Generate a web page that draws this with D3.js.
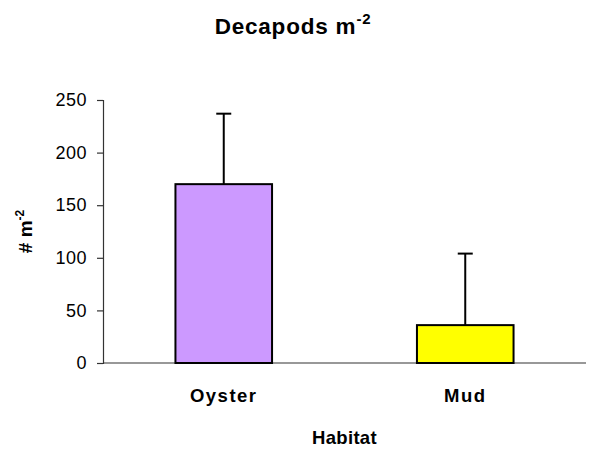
<!DOCTYPE html>
<html>
<head>
<meta charset="utf-8">
<script src="https://cdn.jsdelivr.net/npm/d3@7"></script>
<style>
  body { margin: 0; background: #fff; }
  text { font-family: "Liberation Sans", Arial, sans-serif; fill: #000; }
</style>
</head>
<body>
<div id="chart"></div>
<script>
//Chart data
var habitats = ["Oyster", "Mud"];
var means = [170, 36];
var errors = [67, 68];
var barColors = ["#CC99FF", "#FFFF00"];
var yTicks = [0, 50, 100, 150, 200, 250];

var width = 593;
var height = 452;
var margin = { left: 103, right: 7, top: 100, bottom: 89 };

var svg = d3.select("#chart").append("svg")
    .attr("width", width)
    .attr("height", height);

//Scales
var x = d3.scaleBand()
    .domain(habitats)
    .range([margin.left, width - margin.right])
    .paddingInner(0.6)
    .paddingOuter(0.3);

var y = d3.scaleLinear()
    .domain([0, 250])
    .range([height - margin.bottom, margin.top]);

//Y axis
var yAxis = svg.append("g")
    .attr("transform", "translate(" + margin.left + ",0)")
    .call(d3.axisLeft(y).tickValues(yTicks).tickSize(6).tickPadding(10));
yAxis.select(".domain").attr("stroke", "#333").attr("stroke-width", 1.2);
yAxis.selectAll(".tick line").attr("stroke", "#333").attr("stroke-width", 1.2);
yAxis.selectAll(".tick text")
    .style("font-size", "18px")
    .attr("letter-spacing", "0.5px")
    .attr("fill", "#000");

//X axis baseline
svg.append("line")
    .attr("x1", margin.left)
    .attr("x2", width - margin.right)
    .attr("y1", y(0))
    .attr("y2", y(0))
    .attr("stroke", "#333")
    .attr("stroke-width", 1.2);

//Error bars (upper only), drawn before bars
var err = svg.selectAll(".err").data(habitats).enter().append("g");
err.append("line")
    .attr("x1", function(d) { return x(d) + x.bandwidth() / 2; })
    .attr("x2", function(d) { return x(d) + x.bandwidth() / 2; })
    .attr("y1", function(d, i) { return y(means[i]); })
    .attr("y2", function(d, i) { return y(means[i] + errors[i]); })
    .attr("stroke", "#000")
    .attr("stroke-width", 2);
err.append("line")
    .attr("x1", function(d) { return x(d) + x.bandwidth() / 2 - 7.5; })
    .attr("x2", function(d) { return x(d) + x.bandwidth() / 2 + 7.5; })
    .attr("y1", function(d, i) { return y(means[i] + errors[i]); })
    .attr("y2", function(d, i) { return y(means[i] + errors[i]); })
    .attr("stroke", "#000")
    .attr("stroke-width", 2);

//Bars
svg.selectAll(".bar").data(habitats).enter().append("rect")
    .attr("x", function(d) { return x(d); })
    .attr("width", x.bandwidth())
    .attr("y", function(d, i) { return y(means[i]); })
    .attr("height", function(d, i) { return y(0) - y(means[i]); })
    .attr("fill", function(d, i) { return barColors[i]; })
    .attr("stroke", "#000")
    .attr("stroke-width", 2);

//Category labels
svg.selectAll(".cat").data(habitats).enter().append("text")
    .attr("x", function(d) { return x(d) + x.bandwidth() / 2; })
    .attr("y", 402)
    .attr("text-anchor", "middle")
    .attr("letter-spacing", "1.5px")
    .style("font-size", "18.5px")
    .style("font-weight", "bold")
    .text(function(d) { return d; });

//X axis title
svg.append("text")
    .attr("x", (margin.left + width - margin.right) / 2)
    .attr("y", 444)
    .attr("text-anchor", "middle")
    .attr("letter-spacing", "0.3px")
    .style("font-size", "18.5px")
    .style("font-weight", "bold")
    .text("Habitat");

//Y axis title
var yt = svg.append("text")
    .attr("transform", "translate(32," + (y(125)) + ") rotate(-90)")
    .attr("text-anchor", "middle")
    .style("font-size", "19px")
    .style("font-weight", "bold");
yt.append("tspan").text("# m");
yt.append("tspan").attr("dy", -8).style("font-size", "12px").text("-2");

//Chart title
var title = svg.append("text")
    .attr("x", 293)
    .attr("y", 34)
    .attr("text-anchor", "middle")
    .attr("letter-spacing", "0.8px")
    .style("font-size", "22.5px")
    .style("font-weight", "bold");
title.append("tspan").text("Decapods m");
title.append("tspan").attr("dy", -10).style("font-size", "15px").text("-2");
</script>
</body>
</html>
